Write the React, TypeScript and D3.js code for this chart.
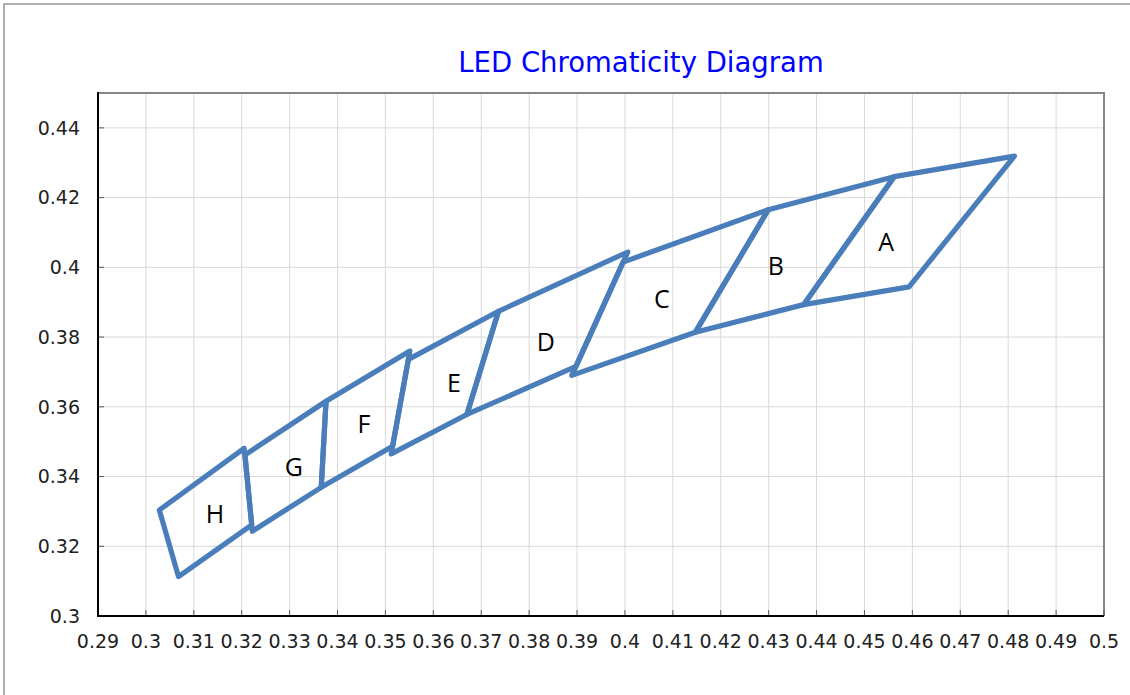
import React from "react";
import * as d3 from "d3";

// chromaticity bins, corners in order (x, y)
const binNames = ["A", "B", "C", "D", "E", "F", "G", "H"];
const binCornerX = [
    [0.4813, 0.4562, 0.4373, 0.4593],
    [0.4562, 0.4299, 0.4147, 0.4373],
    [0.4299, 0.3996, 0.3889, 0.4147],
    [0.4006, 0.3736, 0.3670, 0.3898],
    [0.3736, 0.3548, 0.3512, 0.3670],
    [0.3551, 0.3376, 0.3366, 0.3515],
    [0.3376, 0.3207, 0.3222, 0.3366],
    [0.3205, 0.3028, 0.3068, 0.3221]
];
const binCornerY = [
    [0.4319, 0.4260, 0.3893, 0.3944],
    [0.4260, 0.4165, 0.3814, 0.3893],
    [0.4165, 0.4015, 0.3690, 0.3814],
    [0.4044, 0.3874, 0.3578, 0.3716],
    [0.3874, 0.3736, 0.3465, 0.3578],
    [0.3760, 0.3616, 0.3369, 0.3487],
    [0.3616, 0.3462, 0.3243, 0.3369],
    [0.3481, 0.3304, 0.3113, 0.3261]
];
// where the letter sits inside each bin
const labelX = [0.4545, 0.4315, 0.4077, 0.3835, 0.3643, 0.3455, 0.3309, 0.3144];
const labelY = [0.4073, 0.4004, 0.3909, 0.3786, 0.3668, 0.3551, 0.3427, 0.3293];

const xTickValues = [0.29, 0.30, 0.31, 0.32, 0.33, 0.34, 0.35, 0.36, 0.37, 0.38, 0.39,
    0.40, 0.41, 0.42, 0.43, 0.44, 0.45, 0.46, 0.47, 0.48, 0.49, 0.50];
const xTickLabels = ["0.29", "0.3", "0.31", "0.32", "0.33", "0.34", "0.35", "0.36", "0.37", "0.38", "0.39",
    "0.4", "0.41", "0.42", "0.43", "0.44", "0.45", "0.46", "0.47", "0.48", "0.49", "0.5"];
const yTickValues = [0.30, 0.32, 0.34, 0.36, 0.38, 0.40, 0.42, 0.44];
const yTickLabels = ["0.3", "0.32", "0.34", "0.36", "0.38", "0.4", "0.42", "0.44"];

const title = "LED Chromaticity Diagram";

export default function App() {
    const width = 1130;
    const height = 695;
    const margin = {left: 98, right: 26, top: 93, bottom: 79};

    const x = d3.scaleLinear().domain([0.29, 0.5]).range([margin.left, width - margin.right]);
    const y = d3.scaleLinear().domain([0.3, 0.45]).range([height - margin.bottom, margin.top]);

    const line = d3.line<[number, number]>()
        .x(d => x(d[0]))
        .y(d => y(d[1]))
        .curve(d3.curveLinearClosed);

    const x0 = x(0.29), x1 = x(0.5), y0 = y(0.3), y1 = y(0.45);
    const tickFont = "'DejaVu Sans', sans-serif";

    return (
        <div>
            <style>{`body{margin:0}`}</style>
            <svg width={width} height={height} style={{display: "block"}}>
                <rect x={0} y={0} width={width} height={height} fill="#fff"/>
                {/* outer chart frame, runs off the page at right and bottom */}
                <rect x={4} y={4} width={width + 10} height={height + 10} fill="none" stroke="#7f7f7f" strokeWidth={1.2}/>

                <text x={641} y={72} textAnchor="middle" fill="#0000ff"
                      style={{fontFamily: tickFont, fontSize: 27.5}}>{title}</text>

                {/* grid */}
                {xTickValues.slice(1, -1).map((v, i) => (
                    <line key={"gx" + i} x1={x(v)} x2={x(v)} y1={y1} y2={y0} stroke="#d9d9d9" strokeWidth={1}/>
                ))}
                {yTickValues.slice(1).map((v, i) => (
                    <line key={"gy" + i} x1={x0} x2={x1} y1={y(v)} y2={y(v)} stroke="#d9d9d9" strokeWidth={1}/>
                ))}

                {/* plot frame top / right */}
                <line x1={x0} x2={x1 + 1} y1={y1} y2={y1} stroke="#868686" strokeWidth={2}/>
                <line x1={x1} x2={x1} y1={y1} y2={y0} stroke="#868686" strokeWidth={2}/>

                {/* bins */}
                {binNames.map((name, i) => {
                    const pts = binCornerX[i].map((cx, j) => [cx, binCornerY[i][j]] as [number, number]);
                    return (
                        <path key={"bin" + name} d={line(pts) || ""} fill="none" stroke="#4a7ebb"
                              strokeWidth={5.2} strokeLinejoin="round"/>
                    );
                })}
                {binNames.map((name, i) => (
                    <text key={"lbl" + name} x={x(labelX[i])} y={y(labelY[i])} dy="0.35em"
                          textAnchor="middle" fill="#000"
                          style={{fontFamily: "'Open Sans', sans-serif", fontSize: 25}}>{name}</text>
                ))}

                {/* axes */}
                {xTickValues.map((v, i) => (
                    <g key={"xt" + i}>
                        <line x1={x(v)} x2={x(v)} y1={y0} y2={y0 - 6} stroke="#595959" strokeWidth={1}/>
                        <text x={x(v)} y={648} textAnchor="middle" fill="#222"
                              style={{fontFamily: tickFont, fontSize: 19}}>{xTickLabels[i]}</text>
                    </g>
                ))}
                {yTickValues.map((v, i) => (
                    <g key={"yt" + i}>
                        <line x1={x0} x2={x0 + 6} y1={y(v)} y2={y(v)} stroke="#595959" strokeWidth={1}/>
                        <text x={80} y={y(v)} dy="0.36em" textAnchor="end" fill="#222"
                              style={{fontFamily: tickFont, fontSize: 19}}>{yTickLabels[i]}</text>
                    </g>
                ))}
                <line x1={x0} x2={x0} y1={y1 - 1} y2={y0 + 1} stroke="#000" strokeWidth={2}/>
                <line x1={x0 - 1} x2={x1} y1={y0} y2={y0} stroke="#000" strokeWidth={2}/>
            </svg>
        </div>
    );
}
